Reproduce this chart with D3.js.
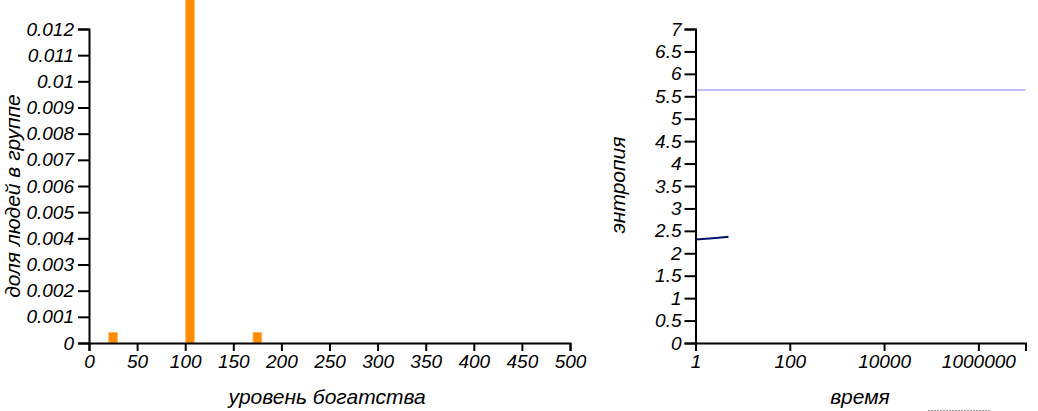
<!DOCTYPE html>
<html>
<head>
<meta charset="utf-8">
<script src="https://cdn.jsdelivr.net/npm/d3@7"></script>
<style>
  body { margin: 0; background: #fff; }
  svg text { font-family: "Liberation Sans", Arial, sans-serif; font-style: italic; fill: #000; }
  .axis path, .axis line { stroke: #000; stroke-width: 2px; }
  .axis text { font-size: 19px; }
  .lbl { font-size: 21px; }
</style>
</head>
<body>
<svg id="chart" width="1038" height="411"></svg>
<script>
// wealth histogram (bin start, share of people)
var binStarts = [20, 100, 170];
var binShares = [0.0004, 0.9992, 0.0004];
var binWidth = 10;
var wealthTicks = [0, 50, 100, 150, 200, 250, 300, 350, 400, 450, 500];
var shareTicks = [0, 0.001, 0.002, 0.003, 0.004, 0.005, 0.006, 0.007, 0.008, 0.009, 0.01, 0.011, 0.012];

// entropy over time
var entTime = [1, 2, 3, 4, 5];
var entValues = [2.31, 2.33, 2.345, 2.36, 2.37];
var maxTime = [1, 10000000];
var maxValues = [5.64, 5.64];
var timeTicks = [1, 100, 10000, 1000000];
var entTicks = [0, 0.5, 1, 1.5, 2, 2.5, 3, 3.5, 4, 4.5, 5, 5.5, 6, 6.5, 7];

var svg = d3.select("#chart");

// ---- left: histogram ----
var x1 = d3.scaleLinear().domain([0, 500]).range([89, 570]);
var y1 = d3.scaleLinear().domain([0, 0.012]).range([343, 29]);

svg.append("g").selectAll("rect")
  .data(binStarts)
  .enter().append("rect")
  .attr("x", (d) => x1(d) + 0.5)
  .attr("width", (d) => x1(d + binWidth) - x1(d) - 1)
  .attr("y", (d, i) => y1(binShares[i]))
  .attr("height", (d, i) => y1(0) - y1(binShares[i]))
  .attr("fill", "#ff8c00")
  .attr("stroke", "#ffb45a")
  .attr("stroke-width", 1);

svg.append("g").attr("class", "axis")
  .attr("transform", "translate(0,343)")
  .call(d3.axisBottom(x1).tickValues(wealthTicks).tickSize(8).tickPadding(4).tickFormat(d3.format("d")));

svg.append("g").attr("class", "axis")
  .attr("transform", "translate(89,0)")
  .call(d3.axisLeft(y1).tickValues(shareTicks).tickSize(11).tickPadding(4).tickFormat(d3.format("~g")));

svg.append("text").attr("class", "lbl")
  .attr("text-anchor", "middle")
  .attr("x", 327).attr("y", 404)
  .text("уровень богатства");

svg.append("text").attr("class", "lbl")
  .attr("text-anchor", "middle")
  .attr("transform", "translate(20,196) rotate(-90)")
  .text("доля людей в группе");

// ---- right: entropy ----
var x2 = d3.scaleLog().domain([1, 10000000]).range([695.5, 1025.5]);
var y2 = d3.scaleLinear().domain([0, 7]).range([343, 29]);

var line = d3.line().x((d) => x2(d[0])).y((d) => y2(d[1]));

svg.append("path")
  .datum(d3.zip(maxTime, maxValues))
  .attr("d", line)
  .attr("fill", "none")
  .attr("stroke", "#bdbdfb")
  .attr("stroke-width", 2);

svg.append("path")
  .datum(d3.zip(entTime, entValues))
  .attr("d", line)
  .attr("fill", "none")
  .attr("stroke", "#00126b")
  .attr("stroke-width", 2);

svg.append("g").attr("class", "axis")
  .attr("transform", "translate(0,343)")
  .call(d3.axisBottom(x2).tickValues(timeTicks).tickSize(8).tickPadding(4).tickFormat(d3.format("d")));

svg.append("g").attr("class", "axis")
  .attr("transform", "translate(695.5,0)")
  .call(d3.axisLeft(y2).tickValues(entTicks).tickSize(11).tickPadding(3).tickFormat(d3.format("~g")));

svg.append("text").attr("class", "lbl")
  .attr("text-anchor", "middle")
  .attr("x", 860).attr("y", 404)
  .text("время");

svg.append("text").attr("class", "lbl")
  .attr("text-anchor", "middle")
  .attr("transform", "translate(625,185) rotate(-90)")
  .text("энтропия");

// small dotted rule at the bottom edge
svg.append("line")
  .attr("x1", 928).attr("x2", 990)
  .attr("y1", 410.5).attr("y2", 410.5)
  .attr("stroke", "#999")
  .attr("stroke-dasharray", "2,1");
</script>
</body>
</html>
